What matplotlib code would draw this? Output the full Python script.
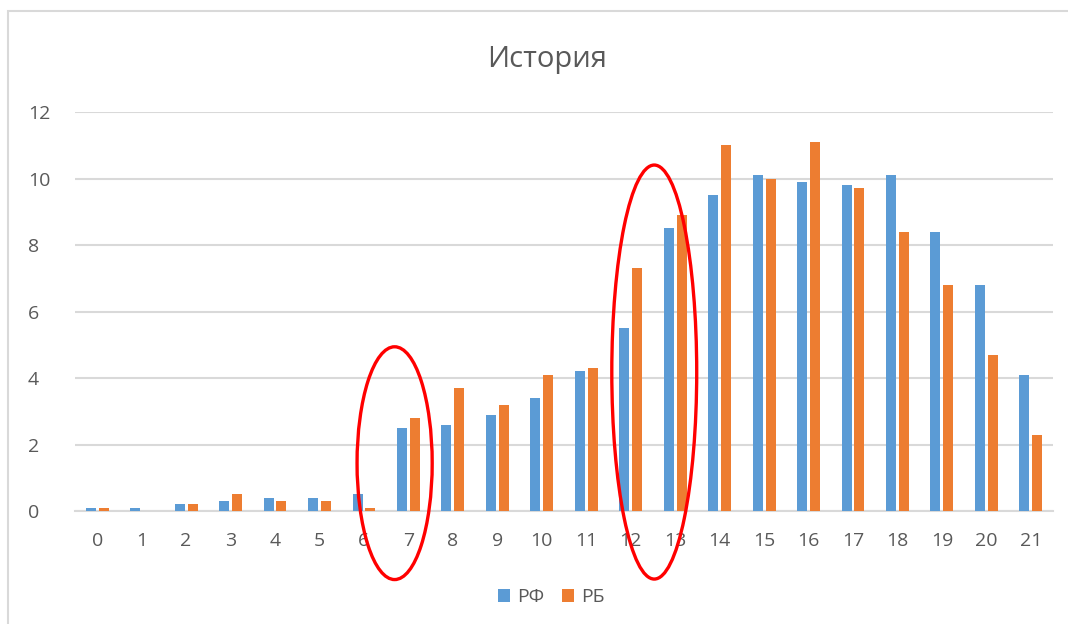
import numpy as np
import matplotlib
matplotlib.use("Agg")
import matplotlib.pyplot as plt
from matplotlib.patches import Ellipse, Rectangle

plt.rcParams['font.family'] = ['Open Sans', 'DejaVu Sans']

# data
categories = [str(i) for i in range(22)]
rf = [0.1, 0.1, 0.2, 0.3, 0.4, 0.4, 0.5, 2.5, 2.6, 2.9, 3.4,
      4.2, 5.5, 8.5, 9.5, 10.1, 9.9, 9.8, 10.1, 8.4, 6.8, 4.1]
rb = [0.1, 0.0, 0.2, 0.5, 0.3, 0.3, 0.1, 2.8, 3.7, 3.2, 4.1,
      4.3, 7.3, 8.9, 11.0, 10.0, 11.1, 9.7, 8.4, 6.8, 4.7, 2.3]
series_names = ['РФ', 'РБ']
yticks = [0, 2, 4, 6, 8, 10, 12]

blue = '#5B9BD5'
orange = '#ED7D31'
txt = '#595959'
grid = '#D9D9D9'

fig = plt.figure(figsize=(10.68, 6.24), dpi=100)
ax = fig.add_axes([0.0702, 0.181, 0.9158, 0.6395])

# chart frame (light grey, runs off right/bottom edges)
fig.patches.append(Rectangle((8 / 1068, -0.1), 1.2, 1 - 11 / 624 + 0.1,
                             transform=fig.transFigure, fill=False,
                             edgecolor=grid, linewidth=1.5))

x = np.arange(len(categories))
w = 0.225
ax.bar(x - 0.145, rf, w, color=blue, label=series_names[0], zorder=3)
ax.bar(x + 0.145, rb, w, color=orange, label=series_names[1], zorder=3)

ax.set_xlim(-0.5, len(categories) - 0.5)
ax.set_ylim(0, 12)
ax.set_yticks(yticks)
ax.set_xticks(x)
ax.set_xticklabels(categories)
ax.yaxis.grid(True, color=grid, linewidth=1.5, zorder=0)
ax.set_axisbelow(True)
for s in ['top', 'right', 'left']:
    ax.spines[s].set_visible(False)
ax.spines['bottom'].set_color(grid)
ax.spines['bottom'].set_linewidth(1.5)
ax.tick_params(axis='both', length=0, labelsize=14, colors=txt)
ax.tick_params(axis='x', pad=15)
ax.tick_params(axis='y', pad=34)
for lab in ax.get_yticklabels():
    lab.set_horizontalalignment('left')

fig.text(0.512, 0.905, 'История', ha='center', va='center',
         fontsize=21, color=txt)

# red ellipses marking the jumps
ax.add_patch(Ellipse((6.69, 1.44), 1.69, 7.0, fill=False, edgecolor='#FF0000',
                     linewidth=2.4, clip_on=False, zorder=5))
ax.add_patch(Ellipse((12.53, 4.18), 1.91, 12.45, fill=False, edgecolor='#FF0000',
                     linewidth=2.4, clip_on=False, zorder=5))

leg = fig.legend(loc='center', bbox_to_anchor=(0.516, 0.043), ncol=2,
                 frameon=False, fontsize=14, handlelength=0.65, handleheight=0.65,
                 handletextpad=0.35, columnspacing=0.9)
for t in leg.get_texts():
    t.set_color(txt)

fig.savefig('out.png', dpi=100)
